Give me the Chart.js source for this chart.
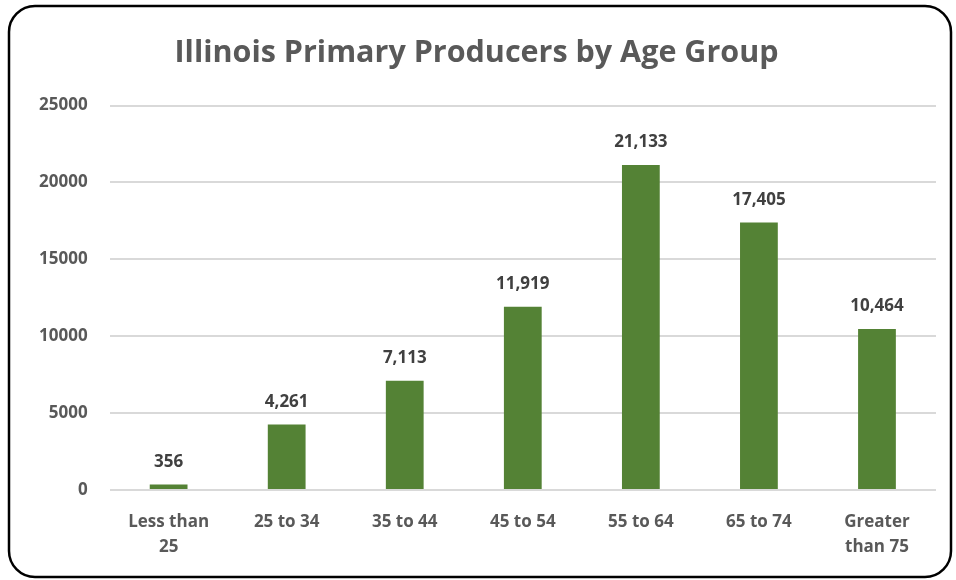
<!DOCTYPE html>
<html>
<head>
<meta charset="utf-8">
<script src="https://cdn.jsdelivr.net/npm/chart.js@4/dist/chart.umd.min.js"></script>
<style>
  html, body { margin: 0; padding: 0; background: #fff; }
  #wrap { width: 956px; height: 580px; position: relative; }
</style>
</head>
<body>
<div id="wrap"><canvas id="ageChart" width="956" height="580"></canvas></div>
<script>
// values
const ageGroups = [["Less than", "25"], "25 to 34", "35 to 44", "45 to 54", "55 to 64", "65 to 74", ["Greater", "than 75"]];
const producers = [356, 4261, 7113, 11919, 21133, 17405, 10464];
const yTicks = [0, 5000, 10000, 15000, 20000, 25000];

const FONT = "'Open Sans', 'Noto Sans', sans-serif";
const GREY = "#595959";

// rounded black frame around the whole chart
const frame = {
  id: 'frame',
  afterDraw(chart) {
    const c = chart.ctx;
    c.save();
    c.lineWidth = 2.5;
    c.strokeStyle = '#000';
    c.beginPath();
    c.roundRect(9, 6, 942, 571, 26);
    c.stroke();
    c.restore();
  }
};

// value labels on top of the bars
const barValues = {
  id: 'barValues',
  afterDatasetsDraw(chart) {
    const c = chart.ctx;
    const meta = chart.getDatasetMeta(0);
    c.save();
    c.font = "bold 17px " + FONT;
    c.fillStyle = "#404040";
    c.textAlign = 'center';
    c.textBaseline = 'bottom';
    meta.data.forEach((bar, i) => {
      c.fillText(producers[i].toLocaleString('en-US'), bar.x, bar.y - 14);
    });
    c.restore();
  }
};

new Chart(document.getElementById('ageChart'), {
  type: 'bar',
  data: {
    labels: ageGroups,
    datasets: [{
      label: 'Primary Producers',
      data: producers,
      backgroundColor: '#548235',
      borderWidth: 0,
      barPercentage: 0.32,
      categoryPercentage: 1
    }]
  },
  options: {
    responsive: false,
    animation: false,
    layout: { padding: { left: 17, right: 20, top: 20, bottom: 9 } },
    plugins: {
      legend: { display: false },
      tooltip: { enabled: false },
      title: {
        display: true,
        text: 'Illinois Primary Producers by Age Group',
        color: GREY,
        font: { family: FONT, size: 30.5, weight: 'bold' },
        padding: { top: 15, bottom: 34 }
      }
    },
    scales: {
      x: {
        grid: { display: false },
        border: { display: false },
        ticks: {
          color: GREY,
          font: { family: FONT, size: 17, weight: 'bold', lineHeight: 1.5 },
          maxRotation: 0,
          autoSkip: false,
          padding: 11
        }
      },
      y: {
        min: 0,
        max: 25000,
        afterBuildTicks(axis) { axis.ticks = yTicks.map(v => ({ value: v })); },
        grid: { color: '#d9d9d9', lineWidth: 2, drawTicks: false },
        border: { display: false },
        ticks: {
          color: GREY,
          font: { family: FONT, size: 17, weight: 'bold' },
          padding: 22,
          callback: v => String(v)
        }
      }
    }
  },
  plugins: [frame, barValues]
});
</script>
</body>
</html>
